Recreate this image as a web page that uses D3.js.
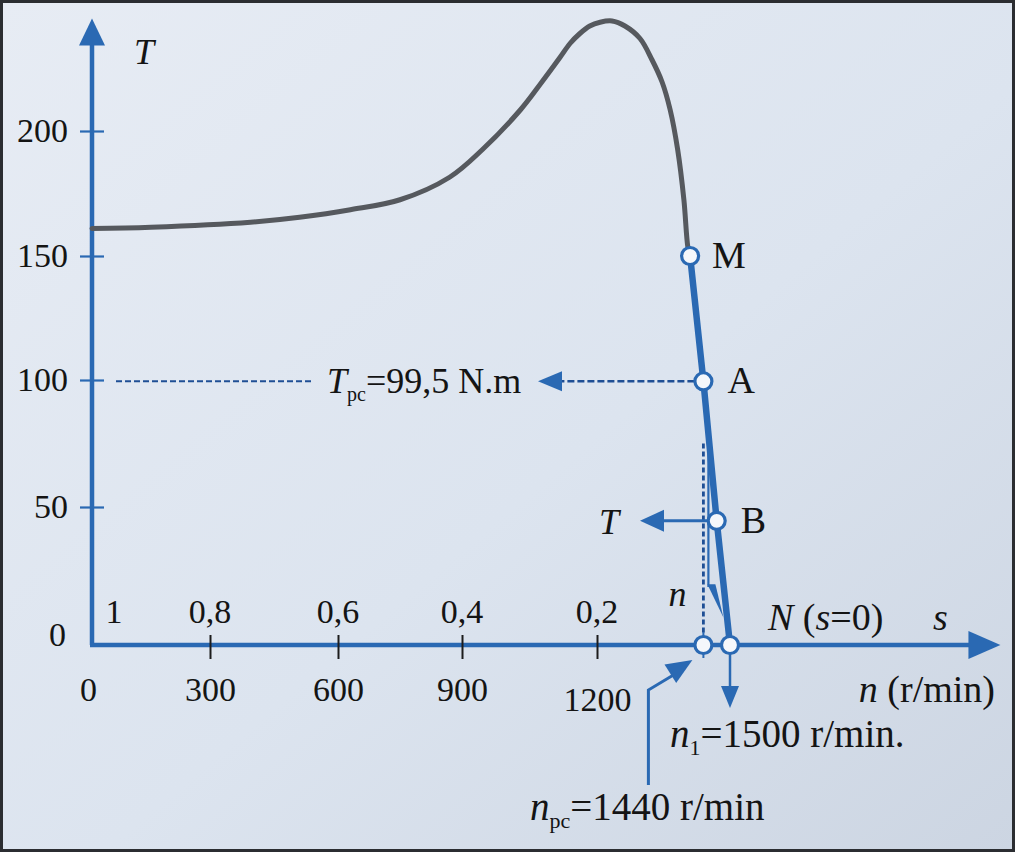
<!DOCTYPE html>
<html><head><meta charset="utf-8">
<script src="https://cdn.jsdelivr.net/npm/d3@7"></script>
<style>
html,body{margin:0;padding:0;background:#dfe6ef;}
svg{display:block;}
text{font-family:"Liberation Serif","Times New Roman",serif;fill:#141414;}
</style>
</head><body>
<svg id="c" width="1015" height="852"></svg>
<script>
// ---------- data ----------
const torqueTicks = [50, 100, 150, 200];
const speedTicks = [0, 300, 600, 900, 1200];
const slipLabels = ["1", "0,8", "0,6", "0,4", "0,2"];
const slipAtSpeed = [0, 300, 600, 900, 1200];
// torque-speed curve (grey, unstable zone up to M)
const curveSpeed  = [0, 150, 395, 510, 630, 750, 870, 945, 1030, 1075, 1118, 1140, 1162, 1184, 1207, 1234, 1263, 1297, 1324, 1347, 1365, 1382, 1396, 1405, 1410];
const curveTorque = [161, 161.5, 163.5, 165.5, 168.5, 172.5, 181.5, 192.5, 208.5, 219, 229.5, 235, 239, 242, 243.5, 244, 242, 237, 228.5, 219.5, 208.5, 192.5, 172.5, 153.5, 150];
// operating points (blue stable zone)
const pointNames  = ["M", "A", "B", "N"];
const pointSpeed  = [1410, 1440, 1470, 1500];
const pointTorque = [150, 99.5, 45, 0];
const nPc = 1440, n1 = 1500, tPc = 99.5;

// ---------- setup ----------
const svg = d3.select("#c");
const W = 1015, H = 852;
const BLUE = "#2a69b3", DBLUE = "#1f4f95", GREY = "#56595e";

const defs = svg.append("defs");
const lg = defs.append("linearGradient").attr("id","bg").attr("x1","0").attr("y1","0").attr("x2","1").attr("y2","1");
lg.append("stop").attr("offset","0").attr("stop-color","#e7ecf4");
lg.append("stop").attr("offset","0.55").attr("stop-color","#dce4ef");
lg.append("stop").attr("offset","1").attr("stop-color","#ccd5e2");
svg.append("rect").attr("width",W).attr("height",H).attr("fill","url(#bg)");
svg.append("rect").attr("x",1.5).attr("y",1.5).attr("width",W-3).attr("height",H-3)
  .attr("fill","none").attr("stroke","#2b2d31").attr("stroke-width",3);

const x = d3.scaleLinear().domain([0, 300, 600, 900, 1200, 1500]).range([92, 210, 338, 462, 597, 730]);
const y = d3.scaleLinear().domain([0, 50, 100, 150, 200]).range([645, 507, 380, 256, 131]);

const g = svg.append("g");

function arrowHead(tx, ty, ang, len, hw, color) {
  const bx = tx - len*Math.cos(ang), by = ty - len*Math.sin(ang);
  const px = -Math.sin(ang)*hw, py = Math.cos(ang)*hw;
  g.append("path")
    .attr("d", `M${tx},${ty}L${bx+px},${by+py}L${bx-px},${by-py}Z`)
    .attr("fill", color);
}

// ---------- axes ----------
const x0 = x(0), y0 = y(0);
g.append("line").attr("x1",x0).attr("x2",x0).attr("y1",y0).attr("y2",y(238))
  .attr("stroke",BLUE).attr("stroke-width",4.5);
arrowHead(x0, y(245), -Math.PI/2, 27, 13, BLUE);
g.append("line").attr("x1",x0-2).attr("x2",x(2050)).attr("y1",y0).attr("y2",y0)
  .attr("stroke",BLUE).attr("stroke-width",4.5);
arrowHead(x(2110), y0, 0, 32, 14, BLUE);

// y ticks
const yAxis = d3.axisLeft(y).tickValues(torqueTicks).tickSizeInner(12).tickSizeOuter(0).tickPadding(12);
const ya = g.append("g").attr("transform",`translate(${x0},0)`).call(yAxis);
ya.select(".domain").remove();
ya.selectAll(".tick line").attr("x1",12).attr("x2",-12).attr("stroke",BLUE).attr("stroke-width",2.2);
ya.selectAll(".tick text").attr("font-size",34).attr("font-family","Liberation Serif").attr("fill","#141414");
g.append("text").attr("x",x0-26).attr("y",y0-10).attr("dy","0.32em").attr("text-anchor","end")
  .attr("font-size",34).text("0");

// x ticks (speed)
const xAxis = d3.axisBottom(x).tickValues(speedTicks).tickFormat(d3.format("d"))
  .tickSizeInner(14).tickSizeOuter(0).tickPadding(18);
const xa = g.append("g").attr("transform",`translate(0,${y0})`).call(xAxis);
xa.select(".domain").remove();
xa.selectAll(".tick line").attr("y1",-10).attr("y2",14).attr("stroke","#1c1c1c").attr("stroke-width",2)
  .filter(d => d === 0).remove();
xa.selectAll(".tick text").attr("font-size",34).attr("font-family","Liberation Serif").attr("fill","#141414")
  .attr("dx", d => d === 0 ? -4 : 0).attr("dy", d => d === 1200 ? "1.0em" : "0.71em");

// slip labels
g.selectAll(".slip").data(slipLabels).join("text")
  .attr("x",(d,i) => x(slipAtSpeed[i]) + (i === 0 ? 22 : 0))
  .attr("y", y0 - 22)
  .attr("text-anchor","middle").attr("font-size",34).text(d => d);

// ---------- curves ----------
const curvePts = curveSpeed.map((n,i) => [x(n), y(curveTorque[i])]);
g.append("path").attr("d", d3.line().curve(d3.curveCatmullRom.alpha(0.5))(curvePts))
  .attr("fill","none").attr("stroke",GREY).attr("stroke-width",5).attr("stroke-linecap","round");

const opPts = pointSpeed.map((n,i) => [x(n), y(pointTorque[i])]);
g.append("path").attr("d", d3.line()(opPts))
  .attr("fill","none").attr("stroke",BLUE).attr("stroke-width",6.5);

// ---------- annotations ----------
const xA = x(nPc), yA = y(tPc);
g.append("line").attr("x1",x0+24).attr("x2",312).attr("y1",yA).attr("y2",yA)
  .attr("stroke",DBLUE).attr("stroke-width",2).attr("stroke-dasharray","6,3");
g.append("line").attr("x1",xA-9).attr("x2",560).attr("y1",yA).attr("y2",yA)
  .attr("stroke",DBLUE).attr("stroke-width",2.5).attr("stroke-dasharray","7,3");
arrowHead(538, yA, Math.PI, 24, 10, BLUE);
const tpcText = g.append("text").attr("x",327).attr("y",yA+12).attr("font-size",36);
tpcText.append("tspan").attr("font-style","italic").text("T");
tpcText.append("tspan").attr("font-size",20).attr("dy",8).text("pc");
tpcText.append("tspan").attr("dy",-8).text("=99,5 N.m");

// vertical dashed from A down to npc
g.append("line").attr("x1",xA).attr("x2",xA).attr("y1",y(75)).attr("y2",y0-10)
  .attr("stroke",DBLUE).attr("stroke-width",2.8).attr("stroke-dasharray","5,3");

// "n" arrow alongside the characteristic
g.append("line").attr("x1",xA+5).attr("x2",xA+5).attr("y1",y(74)).attr("y2",y(21))
  .attr("stroke",BLUE).attr("stroke-width",2.2);
g.append("path").attr("d",`M${xA+4},${y(22)}L${xA+12},${y(22)}L${xA+20},${y(10)}Z`).attr("fill",BLUE);
g.append("text").attr("x",xA-35).attr("y",y(14)).attr("font-size",36).attr("font-style","italic").text("n");

// B torque arrow
const xB = x(pointSpeed[2]), yB = y(pointTorque[2]);
g.append("line").attr("x1",xB-9).attr("x2",660).attr("y1",yB).attr("y2",yB)
  .attr("stroke",BLUE).attr("stroke-width",3);
arrowHead(640, yB, Math.PI, 24, 11, BLUE);
g.append("text").attr("x",599).attr("y",yB+13).attr("font-size",36).attr("font-style","italic").text("T");

// small tick marks through the axis circles
[nPc, n1].forEach(n => {
  g.append("line").attr("x1",x(n)).attr("x2",x(n)).attr("y1",y0-13).attr("y2",y0+13)
    .attr("stroke",BLUE).attr("stroke-width",2);
});

// points
const allPts = opPts.concat([[x(nPc), y0]]);
g.selectAll(".pt").data(allPts).join("circle")
  .attr("cx",d => d[0]).attr("cy",d => d[1]).attr("r",8.5)
  .attr("fill","#f4f7fb").attr("stroke",BLUE).attr("stroke-width",3.2);

// point labels
const labOff = [[22,12],[24,12],[24,12],[0,0]];
g.selectAll(".pl").data(pointNames.slice(0,3)).join("text")
  .attr("x",(d,i) => opPts[i][0] + labOff[i][0]).attr("y",(d,i) => opPts[i][1] + labOff[i][1])
  .attr("font-size",38).text(d => d);

// N (s=0) and s
const nl = g.append("text").attr("x",x(n1)+38).attr("y",y0-15).attr("font-size",38);
nl.append("tspan").attr("font-style","italic").text("N");
nl.append("tspan").text(" (");
nl.append("tspan").attr("font-style","italic").text("s");
nl.append("tspan").text("=0)");
g.append("text").attr("x",933).attr("y",y0-15).attr("font-size",38).attr("font-style","italic").text("s");

// n (r/min)
const nx = g.append("text").attr("x",995).attr("y",y0+57).attr("text-anchor","end").attr("font-size",38);
nx.append("tspan").attr("font-style","italic").text("n");
nx.append("tspan").text(" (r/min)");

// n1 arrow
g.append("line").attr("x1",x(n1)).attr("x2",x(n1)).attr("y1",y0+9).attr("y2",y0+45)
  .attr("stroke",BLUE).attr("stroke-width",2.5);
arrowHead(x(n1), y0+63, Math.PI/2, 22, 9, BLUE);
const n1t = g.append("text").attr("x",670).attr("y",y0+102).attr("font-size",39);
n1t.append("tspan").attr("font-style","italic").text("n");
n1t.append("tspan").attr("font-size",22).attr("dy",8).text("1");
n1t.append("tspan").attr("dy",-8).text("=1500 r/min.");

// npc arrow
const xp = x(nPc);
g.append("path").attr("d",`M${xp-55},${y0+140}L${xp-55},${y0+45}L${xp-25},${y0+27}`)
  .attr("fill","none").attr("stroke",BLUE).attr("stroke-width",3);
arrowHead(xp-11, y0+15, -Math.atan2(20, 32), 26, 11, BLUE);
const npt = g.append("text").attr("x",530).attr("y",y0+175).attr("font-size",39);
npt.append("tspan").attr("font-style","italic").text("n");
npt.append("tspan").attr("font-size",22).attr("dy",8).text("pc");
npt.append("tspan").attr("dy",-8).text("=1440 r/min");

// T axis label
g.append("text").attr("x",134).attr("y",64).attr("font-size",36).attr("font-style","italic").text("T");
</script>
</body></html>
